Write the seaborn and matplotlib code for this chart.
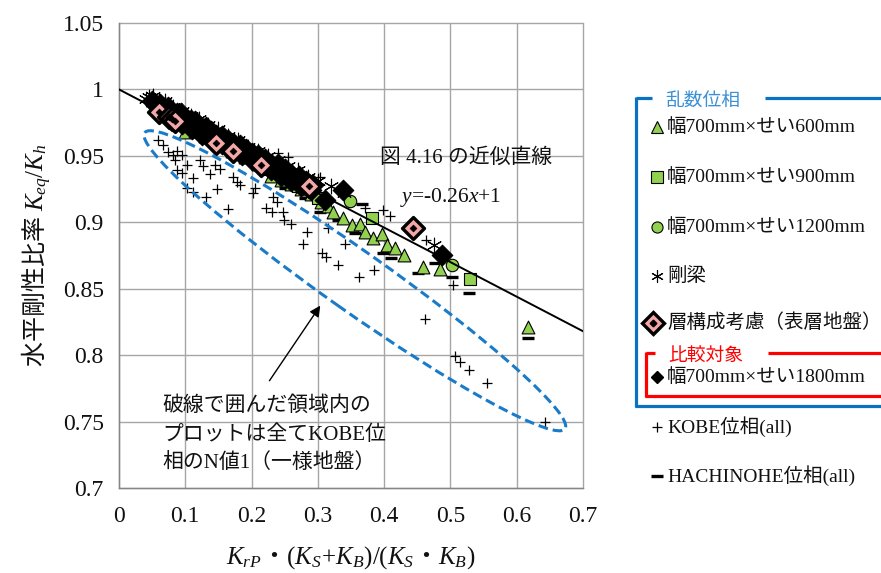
import numpy as np
import matplotlib
matplotlib.use("Agg")
import matplotlib.pyplot as plt
from matplotlib.lines import Line2D
from matplotlib.patches import Ellipse
from matplotlib.transforms import Affine2D
import seaborn as sns

# ---------------- data ----------------
# 乱数位相: 幅700mm×せい600mm
tri_x = [0.085, 0.100, 0.115, 0.130, 0.150, 0.170, 0.190, 0.210, 0.230, 0.245,
         0.260, 0.275, 0.290, 0.305, 0.315, 0.323, 0.338, 0.351, 0.363, 0.371,
         0.383, 0.397, 0.404, 0.416, 0.430, 0.458, 0.484, 0.617]
tri_y = [0.978, 0.968, 0.969, 0.965, 0.959, 0.954, 0.949, 0.944, 0.935, 0.932,
         0.929, 0.925, 0.921, 0.915, 0.912, 0.908, 0.903, 0.898, 0.899, 0.893,
         0.888, 0.891, 0.883, 0.881, 0.875, 0.866, 0.865, 0.821]

# 乱数位相: 幅700mm×せい900mm
sq_x = [0.150, 0.220, 0.270, 0.300, 0.381, 0.529]
sq_y = [0.958, 0.940, 0.927, 0.918, 0.903, 0.857]

# 乱数位相: 幅700mm×せい1200mm
cir_x = [0.120, 0.200, 0.280, 0.348, 0.502]
cir_y = [0.968, 0.947, 0.926, 0.916, 0.868]

# 剛梁
rigid_x = [0.040, 0.045, 0.052, 0.060, 0.070, 0.082, 0.095, 0.108, 0.120, 0.135,
           0.150, 0.165, 0.180, 0.195, 0.210, 0.225, 0.240, 0.255, 0.270, 0.285,
           0.300, 0.320, 0.340, 0.475]
rigid_y = [0.993, 0.994, 0.995, 0.991, 0.991, 0.987, 0.984, 0.980, 0.978, 0.973,
           0.970, 0.965, 0.962, 0.957, 0.954, 0.950, 0.947, 0.942, 0.939, 0.934,
           0.931, 0.927, 0.922, 0.883]

# 層構成考慮（表層地盤）
layer_x = [0.060, 0.075, 0.080, 0.085, 0.146, 0.172, 0.214, 0.286, 0.443]
layer_y = [0.983, 0.979, 0.978, 0.976, 0.960, 0.954, 0.943, 0.927, 0.896]

# 比較対象: 幅700mm×せい1800mm
cmp_x = [0.050, 0.056, 0.062, 0.068, 0.074, 0.080, 0.087, 0.094, 0.101, 0.108,
         0.115, 0.123, 0.131, 0.139, 0.147, 0.156, 0.165, 0.174, 0.183, 0.192,
         0.201, 0.210, 0.220, 0.230, 0.240, 0.250, 0.260, 0.271, 0.282, 0.293,
         0.311, 0.338, 0.487,
         0.095, 0.110, 0.125, 0.140, 0.155, 0.170, 0.185, 0.200, 0.215, 0.230,
         0.245, 0.260, 0.275, 0.290]
cmp_y = [0.991, 0.988, 0.989, 0.986, 0.987, 0.983, 0.982, 0.982, 0.978, 0.977,
         0.976, 0.972, 0.972, 0.969, 0.966, 0.965, 0.962, 0.959, 0.958, 0.955,
         0.952, 0.951, 0.948, 0.944, 0.944, 0.940, 0.936, 0.935, 0.931, 0.928,
         0.917, 0.924, 0.875,
         0.974, 0.970, 0.966, 0.963, 0.959, 0.955, 0.951, 0.947, 0.943, 0.939,
         0.935, 0.931, 0.927, 0.924]

# KOBE位相(all)
kobe_x = [0.059, 0.066, 0.074, 0.081, 0.087, 0.095, 0.084, 0.102, 0.087, 0.095,
          0.122, 0.127, 0.112, 0.137, 0.145, 0.152, 0.102, 0.112, 0.148, 0.131,
          0.164, 0.172, 0.178, 0.182, 0.205, 0.202, 0.232, 0.238, 0.222, 0.231,
          0.247, 0.249, 0.259, 0.283, 0.277, 0.306, 0.313, 0.330, 0.362, 0.341,
          0.384, 0.409, 0.398, 0.371, 0.463, 0.504, 0.461, 0.507, 0.514, 0.528,
          0.555, 0.642, 0.315, 0.240, 0.255, 0.303]
kobe_y = [0.962, 0.958, 0.953, 0.951, 0.954, 0.951, 0.947, 0.943, 0.939, 0.937,
          0.947, 0.942, 0.933, 0.936, 0.943, 0.940, 0.926, 0.923, 0.925, 0.919,
          0.910, 0.934, 0.930, 0.928, 0.926, 0.922, 0.919, 0.915, 0.911, 0.908,
          0.908, 0.902, 0.899, 0.893, 0.884, 0.877, 0.874, 0.868, 0.859, 0.884,
          0.864, 0.905, 0.909, 0.911, 0.887, 0.853, 0.827, 0.799, 0.795, 0.789,
          0.779, 0.750, 0.896, 0.952, 0.949, 0.934]

# HACHINOHE位相(all)
hachi_x = [0.250, 0.280, 0.303, 0.330, 0.356, 0.366, 0.398, 0.411, 0.451, 0.476,
           0.502, 0.528, 0.617]
hachi_y = [0.926, 0.918, 0.908, 0.902, 0.892, 0.914, 0.877, 0.873, 0.862, 0.869,
           0.859, 0.847, 0.813]

# 図 4.16 の近似直線
slope, intercept = -0.26, 1.0
fit_x = np.array([0.0, 0.7])
fit_y = slope * fit_x + intercept

x_ticks = [0.0, 0.1, 0.2, 0.3, 0.4, 0.5, 0.6, 0.7]
x_tick_labels = ["0", "0.1", "0.2", "0.3", "0.4", "0.5", "0.6", "0.7"]
y_ticks = [0.70, 0.75, 0.80, 0.85, 0.90, 0.95, 1.00, 1.05]
y_tick_labels = ["0.7", "0.75", "0.8", "0.85", "0.9", "0.95", "1", "1.05"]

# ---------------- style ----------------
sns.set_theme(style="white")
plt.rcParams["font.family"] = ["Liberation Serif", "Noto Sans CJK JP"]
plt.rcParams["mathtext.fontset"] = "custom"
plt.rcParams["mathtext.rm"] = "Liberation Serif"
plt.rcParams["mathtext.it"] = "Liberation Serif:italic"
plt.rcParams["mathtext.sf"] = "Noto Sans CJK JP"

GREEN = "#92d050"
PINK = "#f4a7a7"
BLUE_LINE = "#0a72c2"
BLUE_TEXT = "#3a8fd6"
RED = "#ff0000"
GRID = "#a6a6a6"
AXIS = "#868686"

W, H = 881, 573
fig = plt.figure(figsize=(W / 100, H / 100), dpi=100)
ax = fig.add_axes([119 / W, 1 - 488 / H, (583 - 119) / W, (488 - 23) / H])

# ---------------- marks ----------------
sns.scatterplot(x=kobe_x, y=kobe_y, marker="+", s=55, color="black",
                linewidth=0.9, ax=ax, zorder=3)
sns.scatterplot(x=hachi_x, y=hachi_y, marker="_", s=70, color="black",
                linewidth=2.4, ax=ax, zorder=3)
sns.scatterplot(x=tri_x, y=tri_y, marker="^", s=85, color=GREEN,
                edgecolor="black", linewidth=0.8, ax=ax, zorder=4)
sns.scatterplot(x=sq_x, y=sq_y, marker="s", s=85, color=GREEN,
                edgecolor="black", linewidth=0.8, ax=ax, zorder=4)
sns.scatterplot(x=cir_x, y=cir_y, marker="o", s=80, color=GREEN,
                edgecolor="black", linewidth=0.8, ax=ax, zorder=4)
sns.scatterplot(x=rigid_x, y=rigid_y, marker=(6, 2, 0), s=110, color="black",
                linewidth=0.8, ax=ax, zorder=5)
sns.scatterplot(x=cmp_x, y=cmp_y, marker="D", s=110, color="black",
                edgecolor="black", linewidth=0.8, ax=ax, zorder=5)
sns.scatterplot(x=layer_x, y=layer_y, marker="D", s=125, color=PINK,
                edgecolor="black", linewidth=2.4, ax=ax, zorder=6)
sns.scatterplot(x=layer_x, y=layer_y, marker="D", s=12, color="black",
                edgecolor="black", linewidth=0.5, ax=ax, zorder=7)

sns.lineplot(x=fit_x, y=fit_y, color="black", linewidth=1.4, ax=ax, zorder=4.5)

# ---------------- axes ----------------
ax.set_xlim(0, 0.7)
ax.set_ylim(0.7, 1.05)
ax.set_xticks(x_ticks)
ax.set_xticklabels(x_tick_labels)
ax.set_yticks(y_ticks)
ax.set_yticklabels(y_tick_labels)
ax.tick_params(axis="both", direction="out", length=6, width=1, color=AXIS,
               labelsize=17, labelcolor="#111111")
ax.tick_params(axis="x", pad=7)
ax.tick_params(axis="y", pad=5)
ax.grid(True, color=GRID, linewidth=1.0)
ax.set_axisbelow(True)
for gl in ax.get_xgridlines() + ax.get_ygridlines():
    gl.set_clip_on(False)
for side in ["top", "right"]:
    ax.spines[side].set_visible(False)
for side in ["left", "bottom"]:
    ax.spines[side].set_color(AXIS)
    ax.spines[side].set_linewidth(1.0)

ax.set_xlabel(r"$K_{rP}\mathsf{・}(K_S\!+\!K_B)/(K_S\mathsf{・}K_B)$",
              fontsize=18, labelpad=12, color="#111111")
ax.set_ylabel(r"$\mathsf{水平剛性比率}\ K_{eq}/K_h$", fontsize=18,
              labelpad=6, color="#111111")

# ---------------- annotations ----------------
ax.text(0.3935, 0.9483, "図 4.16 の近似直線", fontsize=15, va="center",
        ha="left", color="#111111")
ax.text(0.4236, 0.919, r"$y$=-0.26$x$+1", fontsize=15.5, va="center",
        ha="left", color="#111111")

# dashed region enclosing the KOBE N=1 plots (drawn in square pixel-like units)
unit = Affine2D().scale(0.1, 0.05) + ax.transData
ax.add_patch(Ellipse((3.558, 17.12), width=7.75, height=0.905, angle=-35.1,
                     fill=False, edgecolor="#1a7bc9", linewidth=2.2,
                     linestyle=(0, (3.2, 1.6)), transform=unit, zorder=8))

ax.annotate("", xy=(0.306, 0.839), xytext=(0.2246, 0.779),
            arrowprops=dict(arrowstyle="-|>", color="black", lw=1.0,
                            mutation_scale=16), zorder=8)
note_lines = ["破線で囲んだ領域内の", "プロットは全てKOBE位", "相のN値1（一様地盤）"]
for line, yy in zip(note_lines, [0.7616, 0.7398, 0.7187]):
    ax.text(0.066, yy, line, fontsize=15, va="center", ha="left",
            color="#111111", zorder=9)

# ---------------- legend panel ----------------
def fx(px):
    return px / W


def fy(py):
    return 1 - py / H


def seg(x0, y0, x1, y1, color):
    fig.add_artist(Line2D([fx(x0), fx(x1)], [fy(y0), fy(y1)], color=color,
                          linewidth=2.3, solid_capstyle="butt",
                          transform=fig.transFigure))


# 乱数位相 frame
seg(636, 98, 652, 98, BLUE_LINE)
seg(765, 98, 881, 98, BLUE_LINE)
seg(636, 97, 636, 407, BLUE_LINE)
seg(635, 406, 881, 406, BLUE_LINE)
fig.text(fx(665), fy(101), "乱数位相", fontsize=13.5, color=BLUE_TEXT,
         va="center", ha="left")

# 比較対象 frame
seg(646, 353, 655, 353, RED)
seg(768, 353, 881, 353, RED)
seg(646, 352, 646, 397, RED)
seg(645, 396, 881, 396, RED)
fig.text(fx(668), fy(356), "比較対象", fontsize=13.5, color=RED,
         va="center", ha="left")


def legend_marker(px, py, **kw):
    fig.add_artist(Line2D([fx(px)], [fy(py)], linestyle="none",
                          transform=fig.transFigure, **kw))


legend_rows = [
    (127, "幅700mm×せい600mm", dict(marker="^", markersize=8, markerfacecolor=GREEN,
                                   markeredgecolor="black", markeredgewidth=0.8)),
    (177, "幅700mm×せい900mm", dict(marker="s", markersize=8, markerfacecolor=GREEN,
                                   markeredgecolor="black", markeredgewidth=0.8)),
    (227, "幅700mm×せい1200mm", dict(marker="o", markersize=8, markerfacecolor=GREEN,
                                    markeredgecolor="black", markeredgewidth=0.8)),
    (276, "剛梁", dict(marker=(6, 2, 0), markersize=9, color="black",
                      markeredgewidth=0.8)),
    (323, "層構成考慮（表層地盤）", dict(marker="D", markersize=11, markerfacecolor=PINK,
                                 markeredgecolor="black", markeredgewidth=2.4)),
    (377, "幅700mm×せい1800mm", dict(marker="D", markersize=6.5, color="black")),
    (427, "KOBE位相(all)", dict(marker="+", markersize=7, color="black",
                              markeredgewidth=0.9)),
    (476, "HACHINOHE位相(all)", dict(marker="_", markersize=8, color="black",
                                   markeredgewidth=2.4)),
]
for py, label, style in legend_rows:
    mx = 653 if label.startswith("層") else 657
    legend_marker(mx, py, **style)
    if label.startswith("層"):
        legend_marker(mx, py, marker="D", markersize=3.4, color="black")
    fig.text(fx(667), fy(py), label, fontsize=14, color="#111111",
             va="center", ha="left")

fig.savefig("out.png", dpi=100, facecolor="white")
